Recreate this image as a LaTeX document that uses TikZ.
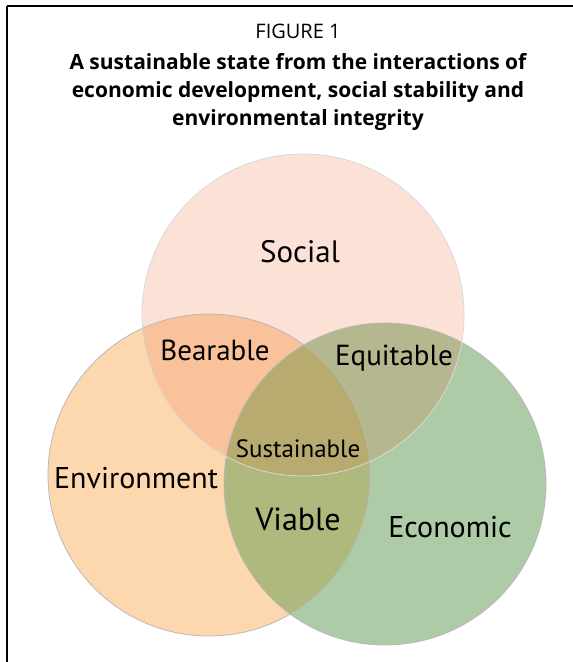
\documentclass[tikz,border=0pt]{standalone}
\usepackage{fontspec}
\setmainfont{Open Sans}
\newfontfamily\labelfont{PT Sans}
\usetikzlibrary{positioning}
\definecolor{socialpink}{HTML}{FCE1D6}
\definecolor{envpeach}{HTML}{FDD8AF}
\definecolor{econgreen}{HTML}{ACCBA6}
\definecolor{bearcol}{HTML}{F9C29A}
\definecolor{equicol}{HTML}{B5B78F}
\definecolor{viablecol}{HTML}{AFB87D}
\definecolor{suscol}{HTML}{B7AB70}
\begin{document}
\begin{tikzpicture}[x=1pt,y=-1pt,
	vennlabel/.style={font=\labelfont\fontsize{#1}{#1}\selectfont, inner sep=0pt, anchor=base},
	vennlabel/.default=29]
	\newcommand\SocialDisk{(303,315) circle (161)}
	\newcommand\EnvDisk{(209,475) circle (161)}
	\newcommand\EconDisk{(385,484) circle (161)}

	\fill[white] (0,0) rectangle (573,662);
	\useasboundingbox (0,0) rectangle (573,662);
	\coordinate (corner) at (7,6);
	\draw[line width=1.4pt] (corner) -- (7,662);
	\draw[line width=1.4pt] (corner) -- (573,6);

	% title
	\node (fig) [anchor=base, inner sep=0pt, font=\fontsize{20}{20}\selectfont] at (298,38) {FIGURE 1};
	\node (title) [anchor=north, inner sep=0pt, align=center, font=\bfseries\fontsize{21}{28}\selectfont,
		below=15pt of fig] {A sustainable state from the interactions of\\
		economic development, social stability and\\ environmental integrity};

	% circles
	\fill[envpeach] \EnvDisk;
	\fill[econgreen] \EconDisk;
	\fill[socialpink] \SocialDisk;
	\begin{scope}
		\clip \EnvDisk;
		\fill[bearcol] \SocialDisk;
		\fill[viablecol] \EconDisk;
	\end{scope}
	\begin{scope}
		\clip \SocialDisk;
		\fill[equicol] \EconDisk;
	\end{scope}
	\begin{scope}
		\clip \SocialDisk;
		\clip \EnvDisk;
		\fill[suscol] \EconDisk;
	\end{scope}
	\draw[gray!55, line width=0.8pt] \EnvDisk;
	\draw[gray!55, line width=0.8pt] \EconDisk;
	\draw[gray!30, line width=0.8pt] \SocialDisk;

	% labels
	\node (social) [vennlabel=31] at (300,262) {Social};
	\node (bearable) [vennlabel] at (215,360) {Bearable};
	\node (equitable) [vennlabel] at (394,365) {Equitable};
	\node (sustainable) [vennlabel=25] at (298,457) {Sustainable};
	\node (environment) [vennlabel=30] at (136,488) {Environment};
	\node (viable) [vennlabel=32] at (298,530) {Viable};
	\node (economic) [vennlabel=30] at (450,537) {Economic};
\end{tikzpicture}
\end{document}
